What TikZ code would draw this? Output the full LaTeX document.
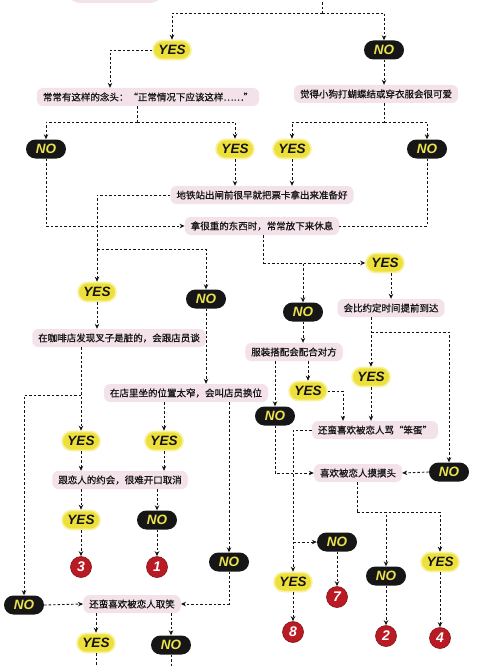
\documentclass[tikz,border=0pt]{standalone}
\usepackage{fontspec}
\usepackage{tikz}
\usetikzlibrary{arrows.meta}
\newfontfamily\cjk{Noto Sans CJK SC}[FakeBold=0.6]
\newfontfamily\tagfont{Liberation Sans}
\definecolor{ink}{RGB}{20,20,20}
\definecolor{yesfill}{RGB}{238,224,58}
\definecolor{yesglow}{RGB}{247,241,160}
\definecolor{nofill}{RGB}{22,22,22}
\definecolor{notext}{RGB}{236,226,80}
\definecolor{qfill}{RGB}{243,226,233}
\definecolor{numfill}{RGB}{186,26,36}
\tikzset{
  yesbox/.style={
    fill=yesfill, draw=yesglow, line width=1.6pt, rounded corners=9.5pt,
    minimum width=38pt, minimum height=19pt, inner sep=0pt,
    font=\tagfont\fontsize{13.5}{13.5}\selectfont\bfseries\itshape, text=ink,
  },
  nobox/.style={
    fill=nofill, rounded corners=9.5pt,
    minimum width=40pt, minimum height=19pt, inner sep=0pt,
    font=\tagfont\fontsize{13.5}{13.5}\selectfont\bfseries\itshape, text=notext,
  },
  quest/.style={
    fill=qfill, rounded corners=6pt, minimum height=18pt,
    inner xsep=6pt, inner ysep=0pt,
    font=\cjk\fontsize{9.5}{11}\selectfont, text=ink,
  },
  numdot/.style={
    circle, fill=numfill, draw=numfill!70!black, line width=0.6pt,
    minimum size=21pt, inner sep=0pt,
    font=\tagfont\fontsize{14}{14}\selectfont\bfseries\itshape, text=white,
  },
  link/.style={dash pattern=on 2.5pt off 2pt, line width=0.9pt, draw=ink},
  arr/.style={link, -{Stealth[length=5pt,width=4.5pt]}},
}
\begin{document}
\begin{tikzpicture}[x=1pt,y=-1pt]
  \useasboundingbox (0,0) rectangle (500,666);
  \clip (0,0) rectangle (500,666);

  % Top of the chart (cut off)
  \node[quest, minimum width=100pt, minimum height=40pt, rounded corners=16pt] (start) at (115,-17) {};
  \coordinate (entry) at (322,-2);
  \coordinate (fork0) at (322,13);

  % Answer tags
  \node[yesbox] (yes1) at (172,50) {YES};
  \node[nobox] (no1) at (384,50) {NO};
  \node[nobox] (no2) at (46,149) {NO};
  \node[yesbox] (yes2) at (235,149) {YES};
  \node[yesbox] (yes3) at (292,149) {YES};
  \node[nobox] (no3) at (427,149) {NO};
  \node[yesbox] (yes4) at (97,292) {YES};
  \node[nobox] (no4) at (206,299) {NO};
  \node[yesbox] (yes5) at (385,263) {YES};
  \node[nobox] (no5) at (303,312) {NO};
  \node[yesbox] (yes6) at (81,441) {YES};
  \node[yesbox] (yes7) at (164,441) {YES};
  \node[yesbox] (yes8) at (81,520) {YES};
  \node[nobox] (no9) at (157,520) {NO};
  \node[nobox] (no8) at (229,562) {NO};
  \node[nobox] (no7) at (24,605) {NO};
  \node[yesbox] (yes9) at (96,643) {YES};
  \node[nobox] (no10) at (171,645) {NO};
  \node[yesbox] (yes10) at (308,391) {YES};
  \node[nobox] (no11) at (275,416) {NO};
  \node[yesbox] (yes11) at (371,377) {YES};
  \node[nobox] (no12) at (449,472) {NO};
  \node[nobox] (no13) at (337,542) {NO};
  \node[yesbox] (yes12) at (293,582) {YES};
  \node[nobox] (no14) at (386,576) {NO};
  \node[yesbox] (yes13) at (440,562) {YES};

  % Questions
  \node[quest] (q1) at (148,97) {常常有这样的念头：“正常情况下应该这样……”};
  \node[quest] (q2) at (376,94) {觉得小狗打蝴蝶结或穿衣服会很可爱};
  \node[quest] (q3) at (262,195) {地铁站出闸前很早就把票卡拿出来准备好};
  \node[quest] (q4) at (262,226) {拿很重的东西时，常常放下来休息};
  \node[quest] (q5) at (391,308) {会比约定时间提前到达};
  \node[quest] (q6) at (119,338) {在咖啡店发现叉子是脏的，会跟店员谈};
  \node[quest] (q7) at (186,393) {在店里坐的位置太窄，会叫店员换位};
  \node[quest] (q8) at (120,480) {跟恋人的约会，很难开口取消};
  \node[quest] (q9) at (132,604) {还蛮喜欢被恋人取笑};
  \node[quest] (q10) at (294,352) {服装搭配会配合对方};
  \node[quest] (q11) at (375,430) {还蛮喜欢被恋人骂“笨蛋”};
  \node[quest] (q12) at (358,473) {喜欢被恋人摸摸头};

  % Results
  \node[numdot] (res3) at (81,567) {3};
  \node[numdot] (res1) at (157,567) {1};
  \node[numdot] (res7) at (337,597) {7};
  \node[numdot] (res8) at (293,632) {8};
  \node[numdot] (res2) at (386,636) {2};
  \node[numdot] (res4) at (440,638) {4};

  % Forks
  \coordinate (fork1) at (137,122);
  \coordinate (fork2) at (384,122);
  \coordinate (fork3) at (97,249);
  \coordinate (fork4) at (263,263);
  \coordinate (fork5) at (81,395);
  \coordinate (fork6) at (371,332);
  \coordinate (fork7) at (293,542);
  \coordinate (fork8) at (357,512);
  \coordinate (out1) at (96,672);
  \coordinate (out2) at (171,672);

  % Upper part
  \draw[link] (entry) -- (fork0);
  \draw[arr] (fork0) -| (yes1.north);
  \draw[arr] (fork0) -| (no1.north);
  \draw[arr] (yes1.west) -| (q1.north -| 110,0);
  \draw[arr] (no1.south) -- (no1.south |- q2.north);
  \draw[link] (q1.south -| fork1) -- (fork1);
  \draw[arr] (fork1) -| (no2.north);
  \draw[arr] (fork1) -| (yes2.north);
  \draw[link] (q2.south -| fork2) -- (fork2);
  \draw[arr] (fork2) -| (yes3.north);
  \draw[arr] (fork2) -| (no3.north);
  \draw[arr] (yes2.south) -- (yes2.south |- q3.north);
  \draw[arr] (yes3.south) -- (yes3.south |- q3.north);
  \draw[arr] (no2.south) |- (q4.west);
  \draw[link] (no3.south) |- (q4.east);
  \draw[link] (q3.west) -| (fork3);
  \draw[arr] (fork3) -- (yes4.north);
  \draw[arr] (fork3) -| (no4.north);
  \draw[link] (q4.south -| fork4) -- (fork4);
  \draw[arr] (fork4) -- (yes5.west);
  \draw[arr] (fork4) -| (no5.north);
  \draw[arr] (yes5.south -| q5.north) -- (q5.north);

  % Left branch
  \draw[arr] (yes4.south) -- (yes4.south |- q6.north);
  \draw[arr] (no4.south) -- (no4.south |- q7.north);
  \draw[arr] (q6.south -| yes6.north) -- (yes6.north);
  \draw[arr] (fork5) -| (no7.north);
  \draw[arr] (q7.south -| yes7.north) -- (yes7.north);
  \draw[arr] (q7.south -| no8.north) -- (no8.north);
  \draw[arr] (yes6.south) -- (yes6.south |- q8.north);
  \draw[arr] (yes7.south) -- (yes7.south |- q8.north);
  \draw[arr] (q8.south -| yes8.north) -- (yes8.north);
  \draw[arr] (q8.south -| no9.north) -- (no9.north);
  \draw[arr] (yes8.south) -- (res3.north);
  \draw[arr] (no9.south) -- (res1.north);
  \draw[arr] (no7.east) -- (q9.west);
  \draw[arr] (no8.south) |- (q9.east);
  \draw[arr] (q9.south -| yes9.north) -- (yes9.north);
  \draw[arr] (q9.south -| no10.north) -- (no10.north);
  \draw[link] (yes9.south) -- (out1);
  \draw[link] (no10.south) -- (out2);

  % Right branch
  \draw[arr] (no5.south) -- (no5.south |- q10.north);
  \draw[arr] (q10.south -| no11.north) -- (no11.north);
  \draw[arr] (q10.south -| yes10.north) -- (yes10.north);
  \draw[arr] (yes10.east) -| (q11.north -| 343,0);
  \draw[arr] (q5.south -| yes11.north) -- (yes11.north);
  \draw[arr] (fork6) -| (no12.north);
  \draw[arr] (yes11.south) -- (yes11.south |- q11.north);
  \draw[arr] (no12.west) -- (q12.east);
  \draw[arr] (no11.south) |- (q12.west);
  \draw[arr] (q11.west) -| (yes12.north);
  \draw[arr] (fork7) -- (no13.west);
  \draw[arr] (no13.south) -- (res7.north);
  \draw[arr] (yes12.south) -- (res8.north);
  \draw[link] (q12.south -| fork8) -- (fork8);
  \draw[arr] (fork8) -| (no14.north);
  \draw[arr] (fork8) -| (yes13.north);
  \draw[arr] (no14.south) -- (res2.north);
  \draw[arr] (yes13.south) -- (res4.north);
\end{tikzpicture}
\end{document}
